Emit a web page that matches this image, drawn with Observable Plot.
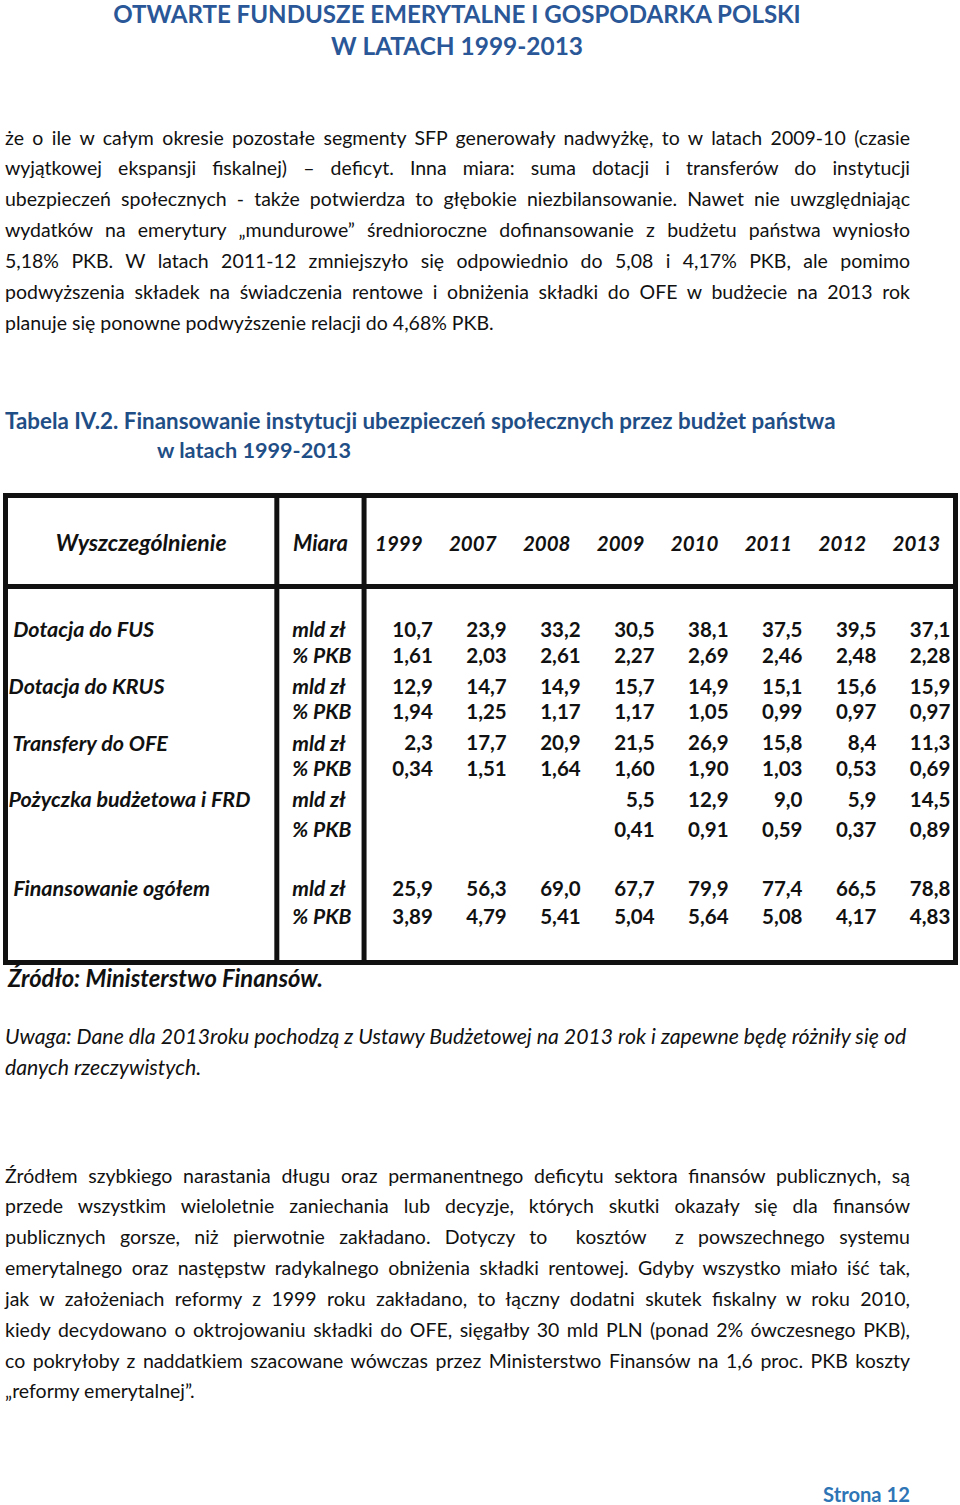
<!DOCTYPE html>
<html><head><meta charset="utf-8">
<script src="https://cdn.jsdelivr.net/npm/d3@7"></script>
<script src="https://cdn.jsdelivr.net/npm/@observablehq/plot@0.6"></script>
<style>
html,body{margin:0;padding:0;background:#fff;}
#page{position:relative;width:960px;height:1505px;overflow:hidden;font-family:Lato,"Noto Sans",sans-serif;color:#111;}
.a{position:absolute;white-space:nowrap;}
.fit span{display:inline-block;}
.title{left:0;width:914px;text-align:center;font-weight:700;color:#2a5797;font-size:24px;line-height:26px;}
.cap{font-weight:700;color:#1f4e86;font-size:21px;line-height:30px;}
.para{position:absolute;left:5px;width:905px;font-size:19.5px;line-height:30.85px;}
.para div{text-align:justify;text-align-last:justify;white-space:normal;height:30.85px;overflow:visible;}
.para div.last{text-align-last:left;}
.src{left:8px;font-weight:700;font-style:italic;font-size:21px;line-height:30px;}
.note{left:5px;font-style:italic;font-size:19px;line-height:31px;font-weight:400;}
.strona{left:823px;font-weight:700;color:#2e75b6;font-size:20px;line-height:20px;}
#table{position:absolute;left:0;top:490px;}
</style>
</head><body>
<div id="page">
  <div class="a title fit" data-w="688" style="top:1px"><span>OTWARTE FUNDUSZE EMERYTALNE I GOSPODARKA POLSKI</span></div>
  <div class="a title fit" data-w="252" style="top:33px"><span>W LATACH 1999-2013</span></div>

  <div class="para" style="top:122.5px">
    <div>że o ile w całym okresie pozostałe segmenty SFP generowały nadwyżkę, to w latach 2009-10 (czasie</div>
    <div>wyjątkowej ekspansji fiskalnej) – deficyt. Inna miara: suma dotacji i transferów do instytucji</div>
    <div>ubezpieczeń społecznych - także potwierdza to głębokie niezbilansowanie. Nawet nie uwzględniając</div>
    <div>wydatków na emerytury „mundurowe” średnioroczne dofinansowanie z budżetu państwa wyniosło</div>
    <div>5,18% PKB. W latach 2011-12 zmniejszyło się odpowiednio do 5,08 i 4,17% PKB, ale pomimo</div>
    <div>podwyższenia składek na świadczenia rentowe i obniżenia składki do OFE w budżecie na 2013 rok</div>
    <div class="last">planuje się ponowne podwyższenie relacji do 4,68% PKB.</div>
  </div>

  <div class="a cap fit" data-w="831" style="left:5px;top:406px"><span>Tabela IV.2. Finansowanie instytucji ubezpieczeń społecznych przez budżet państwa</span></div>
  <div class="a cap fit" data-w="194" style="left:157px;top:435px"><span>w latach 1999-2013</span></div>

  <div id="table"></div>

  <div class="a src fit" data-w="315" style="top:963px"><span>Źródło: Ministerstwo Finansów.</span></div>
  <div class="a note fit" data-w="902" style="top:1021px"><span>Uwaga: Dane dla 2013roku pochodzą z Ustawy Budżetowej na 2013 rok i zapewne będę różniły się od</span></div>
  <div class="a note" style="top:1052px"><span id="note2">danych rzeczywistych.</span></div>

  <div class="para" style="top:1160.5px">
    <div>Źródłem szybkiego narastania długu oraz permanentnego deficytu sektora finansów publicznych, są</div>
    <div>przede wszystkim wieloletnie zaniechania lub decyzje, których skutki okazały się dla finansów</div>
    <div>publicznych gorsze, niż pierwotnie zakładano. Dotyczy to &nbsp;kosztów &nbsp;z powszechnego systemu</div>
    <div>emerytalnego oraz następstw radykalnego obniżenia składki rentowej. Gdyby wszystko miało iść tak,</div>
    <div>jak w założeniach reformy z 1999 roku zakładano, to łączny dodatni skutek fiskalny w roku 2010,</div>
    <div>kiedy decydowano o oktrojowaniu składki do OFE, sięgałby 30 mld PLN (ponad 2% ówczesnego PKB),</div>
    <div>co pokryłoby z naddatkiem szacowane wówczas przez Ministerstwo Finansów na 1,6 proc. PKB koszty</div>
    <div class="last">„reformy emerytalnej”.</div>
  </div>

  <div class="a strona fit" data-w="87" style="top:1484px"><span>Strona 12</span></div>
</div>
<script>
// ---------- data ----------
const columns = ["Wyszczególnienie", "Miara"];
const years = ["1999", "2007", "2008", "2009", "2010", "2011", "2012", "2013"];
const groupNames = ["Dotacja do FUS", "Dotacja do KRUS", "Transfery do OFE", "Pożyczka budżetowa i FRD", "Finansowanie ogółem"];
const groupIndent = [true, false, true, false, true];
const measures = ["mld zł", "% PKB"];

const fusMld  = [10.7, 23.9, 33.2, 30.5, 38.1, 37.5, 39.5, 37.1];
const fusPkb  = [1.61, 2.03, 2.61, 2.27, 2.69, 2.46, 2.48, 2.28];
const krusMld = [12.9, 14.7, 14.9, 15.7, 14.9, 15.1, 15.6, 15.9];
const krusPkb = [1.94, 1.25, 1.17, 1.17, 1.05, 0.99, 0.97, 0.97];
const ofeMld  = [2.3, 17.7, 20.9, 21.5, 26.9, 15.8, 8.4, 11.3];
const ofePkb  = [0.34, 1.51, 1.64, 1.60, 1.90, 1.03, 0.53, 0.69];
const pozMld  = [null, null, null, 5.5, 12.9, 9.0, 5.9, 14.5];
const pozPkb  = [null, null, null, 0.41, 0.91, 0.59, 0.37, 0.89];
const totMld  = [25.9, 56.3, 69.0, 67.7, 79.9, 77.4, 66.5, 78.8];
const totPkb  = [3.89, 4.79, 5.41, 5.04, 5.64, 5.08, 4.17, 4.83];

const groupSeries = [[fusMld, fusPkb], [krusMld, krusPkb], [ofeMld, ofePkb], [pozMld, pozPkb], [totMld, totPkb]];

// ---------- layout (table units: one year column = 1 on x, one text line = 1 on y) ----------
const loc = d3.formatLocale({decimal: ",", thousands: " ", grouping: [3], currency: ["", ""]});
const fmts = [loc.format(".1f"), loc.format(".2f")];
const labelCol = [-4.85, -1.18], miaraCol = [-1.18, 0];
const groupY = g => (g < 4 ? 3 + 2 * g : 12.12);
const lineGap = [0.9, 0.9, 0.9, 1.05, 1.0];
const NB = "\u00a0";

const headerCells = [
  {text: columns[0], x: (labelCol[0] + labelCol[1]) / 2, size: 23},
  {text: columns[1], x: (miaraCol[0] + miaraCol[1]) / 2, size: 22},
  ...years.map((yr, k) => ({text: yr, x: k + 0.47, size: 20.5}))
];
const labelCells = groupNames.map((name, g) => ({text: (groupIndent[g] ? NB : "") + name, y: groupY(g)}));
const measureCells = groupNames.flatMap((_, g) => measures.map((m, l) => ({text: m, y: groupY(g) + l * lineGap[g]})));
const valueCells = groupSeries.flatMap((pair, g) => pair.flatMap((vals, l) =>
  vals.map((v, k) => ({value: v, text: v == null ? "" : fmts[l](v), col: k, y: groupY(g) + l * lineGap[g]}))
)).filter(d => d.value != null);

const fs = 20.5;
const chart = Plot.plot({
  width: 960,
  height: 477,
  marginTop: 5, marginBottom: 5, marginLeft: 5, marginRight: 5,
  x: {domain: [labelCol[0], years.length], axis: null},
  y: {domain: [-1.76, 14.71], reverse: true, axis: null},
  style: {fontFamily: "Lato, 'Noto Sans', sans-serif", color: "#111", background: "transparent", overflow: "visible"},
  marks: [
    Plot.frame({strokeWidth: 5, stroke: "#111"}),
    Plot.ruleX([labelCol[1], miaraCol[1]], {strokeWidth: 5, stroke: "#111"}),
    Plot.ruleY([1.45], {strokeWidth: 5, stroke: "#111"}),
    ...headerCells.map(c => Plot.text([c], {x: "x", y: () => -0.05, text: "text", fontSize: c.size, fontWeight: 700, fontStyle: "italic", textAnchor: "middle"})),
    Plot.text(labelCells, {x: () => -4.81, y: "y", text: "text", fontSize: 21.5, fontWeight: 700, fontStyle: "italic", textAnchor: "start"}),
    Plot.text(measureCells, {x: () => -0.97, y: "y", text: "text", fontSize: 21, fontWeight: 700, fontStyle: "italic", textAnchor: "start"}),
    Plot.text(valueCells, {x: d => d.col + 0.93, y: "y", text: "text", fontSize: fs, fontWeight: 700, textAnchor: "end"})
  ]
});
document.getElementById("table").appendChild(chart);

// fit single-line texts to the reference widths
document.querySelectorAll(".fit").forEach(el => {
  const span = el.querySelector("span");
  const w = span.getBoundingClientRect().width;
  const f = parseFloat(getComputedStyle(el).fontSize);
  el.style.fontSize = (f * (+el.dataset.w) / w) + "px";
});
const n1 = document.querySelectorAll(".note")[0];
document.querySelectorAll(".note")[1].style.fontSize = n1.style.fontSize;
</script>
</body></html>
